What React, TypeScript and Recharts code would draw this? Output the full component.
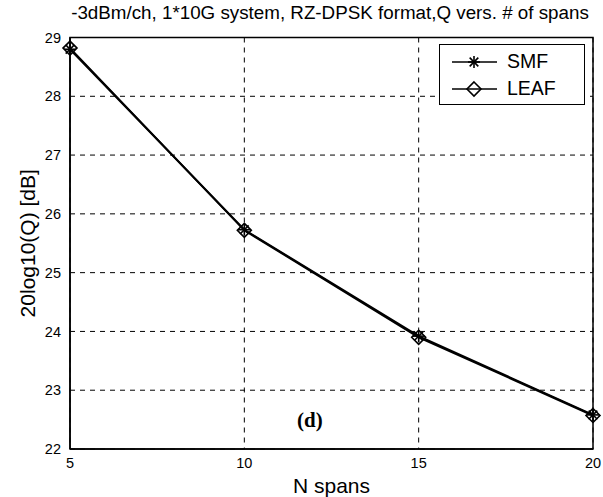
import React from 'react';
import {
  LineChart, Line, XAxis, YAxis, CartesianGrid, ReferenceArea, Label,
} from 'recharts';

const spans = [5, 10, 15, 20];
const smfQ = [28.8, 25.73, 23.92, 22.58];
const leafQ = [28.82, 25.72, 23.9, 22.57];
const xTicks = [5, 10, 15, 20];
const yTicks = [22, 23, 24, 25, 26, 27, 28, 29];
const title = '-3dBm/ch, 1*10G system, RZ-DPSK format,Q vers. # of spans';

const data = spans.map((n, i) => ({ n, smf: smfQ[i], leaf: leafQ[i] }));

const FONT = '"Liberation Sans", Arial, sans-serif';

const Star = (props: any) => {
  const { cx, cy } = props;
  if (cx == null || cy == null) return null;
  const r = 6;
  const d = r * 0.72;
  return (
    <g stroke="#000" strokeWidth={1.6}>
      <line x1={cx - r} y1={cy} x2={cx + r} y2={cy} />
      <line x1={cx} y1={cy - r} x2={cx} y2={cy + r} />
      <line x1={cx - d} y1={cy - d} x2={cx + d} y2={cy + d} />
      <line x1={cx - d} y1={cy + d} x2={cx + d} y2={cy - d} />
    </g>
  );
};

const Diamond = (props: any) => {
  const { cx, cy } = props;
  if (cx == null || cy == null) return null;
  const r = 7;
  return (
    <path
      d={`M${cx} ${cy - r}L${cx + r} ${cy}L${cx} ${cy + r}L${cx - r} ${cy}Z`}
      fill="none"
      stroke="#000"
      strokeWidth={1.6}
    />
  );
};

const legendItems = [
  { label: 'SMF', Marker: Star },
  { label: 'LEAF', Marker: Diamond },
];

// legend box sits over the upper right corner of the plot
const LegendBox = () => (
  <svg width={146} height={61} style={{ position: 'absolute', left: 439, top: 44 }}>
    <rect x={0.5} y={0.5} width={145} height={60} fill="#fff" stroke="#000" />
    {legendItems.map(({ label, Marker }, i) => {
      const y = 18 + i * 27;
      return (
        <g key={label}>
          <line x1={13} y1={y} x2={58} y2={y} stroke="#000" strokeWidth={1.6} />
          <Marker cx={35} cy={y} />
          <text x={68} y={y + 6} fontFamily={FONT} fontSize={19.5} fill="#000">{label}</text>
        </g>
      );
    })}
  </svg>
);

export default function App() {
  return (
    <div style={{ position: 'absolute', left: 0, top: 0, width: 603, height: 497, background: '#fff', overflow: 'hidden' }}>
      <LineChart
        width={603}
        height={497}
        data={data}
        margin={{ top: 37.5, right: 10, bottom: 0, left: 20 }}
      >
        <CartesianGrid stroke="#000" strokeDasharray="5 5" strokeWidth={1} />
        <ReferenceArea x1={5} x2={20} y1={22} y2={29} fill="none" stroke="#000" strokeWidth={1.5} ifOverflow="visible" />
        <XAxis
          dataKey="n"
          type="number"
          domain={[5, 20]}
          ticks={xTicks}
          height={48}
          axisLine={{ stroke: '#000', strokeWidth: 1.5 }}
          tickLine={false}
          tickMargin={3}
          tick={{ fill: '#000', fontFamily: FONT, fontSize: 14.5 }}
        >
          <Label value="N spans" position="insideBottom" offset={4} fill="#000" fontFamily={FONT} fontSize={21} />
        </XAxis>
        <YAxis
          type="number"
          domain={[22, 29]}
          ticks={yTicks}
          width={50}
          axisLine={{ stroke: '#000', strokeWidth: 1.5 }}
          tickLine={false}
          tickMargin={3}
          tick={{ fill: '#000', fontFamily: FONT, fontSize: 14.5 }}
        >
          <Label value="20log10(Q) [dB]" angle={-90} position="insideLeft" offset={0} dx={8} fill="#000" fontFamily={FONT} fontSize={21} style={{ textAnchor: 'middle' }} />
        </YAxis>
        <Line
          type="linear"
          dataKey="smf"
          stroke="#000"
          strokeWidth={2}
          dot={<Star />}
          isAnimationActive={false}
        />
        <Line
          type="linear"
          dataKey="leaf"
          stroke="#000"
          strokeWidth={2}
          dot={<Diamond />}
          isAnimationActive={false}
        />
      </LineChart>
      <div
        style={{
          position: 'absolute', left: 0, top: 2, width: 660, textAlign: 'center',
          fontFamily: FONT, fontSize: 18.8, color: '#000', whiteSpace: 'nowrap',
        }}
      >
        {title}
      </div>
      <LegendBox />
      <div
        style={{
          position: 'absolute', left: 297, top: 408, fontFamily: '"Liberation Serif", "Times New Roman", serif',
          fontWeight: 'bold', fontSize: 21, color: '#000',
        }}
      >
        (d)
      </div>
    </div>
  );
}
